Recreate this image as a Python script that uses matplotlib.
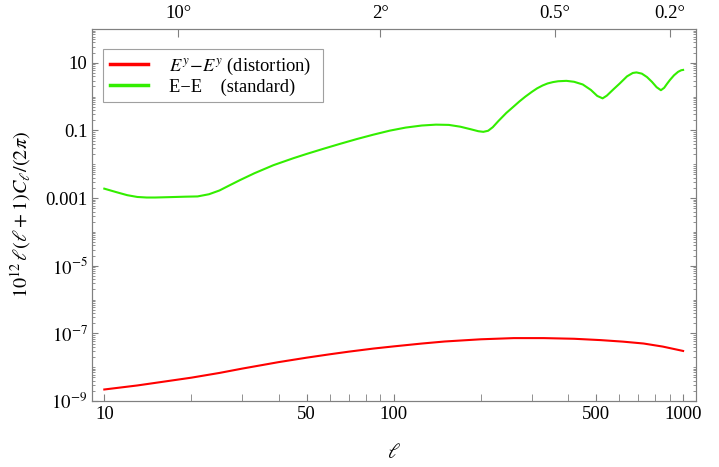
import matplotlib
matplotlib.use('Agg')
import matplotlib.pyplot as plt
import numpy as np
from matplotlib.ticker import FixedLocator, LogLocator, NullFormatter, NullLocator

plt.rcParams['font.family'] = ['Liberation Serif', 'DejaVu Serif']
plt.rcParams['mathtext.fontset'] = 'stix'

# E-E (standard)
ell_ee = [10, 11, 12, 13, 14, 15, 17, 19, 21, 23, 25, 27, 29.4, 33, 38.4, 45, 50, 57,
          65, 74.5, 85, 97, 110, 125, 140, 155, 170, 185, 196, 204, 212, 220, 230,
          245, 259, 272, 285, 300, 313, 327, 340, 355, 370, 395, 420, 450, 480, 505,
          527, 545, 575, 604, 640, 670, 690, 720, 750, 780, 810, 838, 860, 880, 900,
          930, 961, 985, 1000]
cl_ee = [1.9e-3, 1.5e-3, 1.22e-3, 1.08e-3, 1.04e-3, 1.04e-3, 1.07e-3, 1.1e-3, 1.12e-3,
         1.3e-3, 1.68e-3, 2.35e-3, 3.39e-3, 5.42e-3, 9.4e-3, 0.0151, 0.0202, 0.0285,
         0.0398, 0.0556, 0.075, 0.0989, 0.1216, 0.14, 0.1486, 0.146, 0.129, 0.108,
         0.095, 0.091, 0.098, 0.125, 0.19, 0.33, 0.5, 0.724, 1.0, 1.38, 1.76, 2.14,
         2.45, 2.69, 2.85, 2.93, 2.75, 2.29, 1.58, 1.05, 0.89, 1.07, 1.66, 2.45, 3.98,
         5.01, 5.2, 4.79, 3.8, 2.75, 1.9, 1.55, 1.82, 2.4, 3.09, 4.27, 5.42, 6.03, 6.17]

# E^y - E^y (distortion)
ell_yy = [10, 13, 16, 20, 25, 30, 35, 40, 50, 60, 70, 85, 100, 125, 150, 200, 260,
          330, 420, 520, 620, 730, 850, 1000]
cl_yy = [2.19e-9, 2.88e-9, 3.72e-9, 4.9e-9, 6.76e-9, 9.1e-9, 1.15e-8, 1.41e-8,
         1.91e-8, 2.4e-8, 2.88e-8, 3.55e-8, 4.12e-8, 5.0e-8, 5.75e-8, 6.68e-8,
         7.24e-8, 7.24e-8, 6.92e-8, 6.31e-8, 5.69e-8, 5.01e-8, 4.07e-8, 3.02e-8]

x_ticks = [10, 50, 100, 500, 1000]
y_ticks = [1e1, 1e-1, 1e-3, 1e-5, 1e-7, 1e-9]
y_labels = ['10', '0.1', '0.001', r'$10^{-5}$', r'$10^{-7}$', r'$10^{-9}$']
deg_ticks = [10, 2, 0.5, 0.2]

gray = '#808080'
red = '#ff0000'
green = '#33ee00'

fig = plt.figure(figsize=(7.19, 4.67), dpi=100)
ax = fig.add_axes([92.3 / 719, 66 / 467, 603.4 / 719, 372 / 467])

ax.plot(ell_yy, cl_yy, color=red, lw=1.5, label=r'$E^y\!-\!E^y$ (distortion)  ')
ax.plot(ell_ee, cl_ee, color=green, lw=1.5, label='E\u2212E    (standard)')

ax.set_xscale('log')
ax.set_yscale('log')
ax.set_xlim(10 ** 0.9585, 10 ** 3.0435)
ax.set_ylim(10 ** -9.0, 10 ** 2.0)

ax.xaxis.set_major_locator(FixedLocator(x_ticks))
ax.set_xticklabels([str(t) for t in x_ticks])
ax.xaxis.set_minor_locator(LogLocator(base=10, subs=np.arange(2, 10)))
ax.xaxis.set_minor_formatter(NullFormatter())

ax.yaxis.set_major_locator(FixedLocator(y_ticks))
ax.set_yticklabels(y_labels)
ax.yaxis.set_minor_locator(LogLocator(base=10, subs=np.arange(1, 10), numticks=30))
ax.yaxis.set_minor_formatter(NullFormatter())

ax.tick_params(which='both', direction='in', colors=gray, labelcolor='black',
               labelsize=13.5, top=False, right=True)
ax.tick_params(axis='x', which='both', length=5)
ax.tick_params(axis='y', which='major', length=4)
ax.tick_params(axis='y', which='minor', length=2)
for s in ax.spines.values():
    s.set_color(gray)

# angular scale on top, theta = 180/ell
top = ax.twiny()
top.set_xscale('log')
top.set_xlim(ax.get_xlim())
top.xaxis.set_major_locator(FixedLocator([180 / d for d in deg_ticks]))
top.set_xticklabels(['%g\u00b0' % d for d in deg_ticks])
top.xaxis.set_minor_locator(NullLocator())
top.tick_params(direction='in', colors=gray, labelcolor='black', labelsize=13.5,
                length=6, pad=5)
for s in top.spines.values():
    s.set_color(gray)

ax.set_xlabel(r'$\ell$', fontsize=15)
ax.xaxis.set_label_coords(0.5, -0.115)
ax.set_ylabel(r'$10^{12}\,\ell(\ell+1)C_\ell/(2\pi)$', fontsize=14.5)
ax.yaxis.set_label_coords(-0.098, 0.5)

leg = ax.legend(loc='upper left', bbox_to_anchor=(0.018, 0.946), borderaxespad=0,
                fontsize=13.3, fancybox=False, edgecolor='#a0a0a0', framealpha=1,
                handlelength=2.1, handletextpad=1.1, labelspacing=0.1, borderpad=0.35)
leg.get_frame().set_linewidth(0.8)
for h in leg.get_lines():
    h.set_linewidth(2.5)

fig.savefig('out.png', dpi=100)
